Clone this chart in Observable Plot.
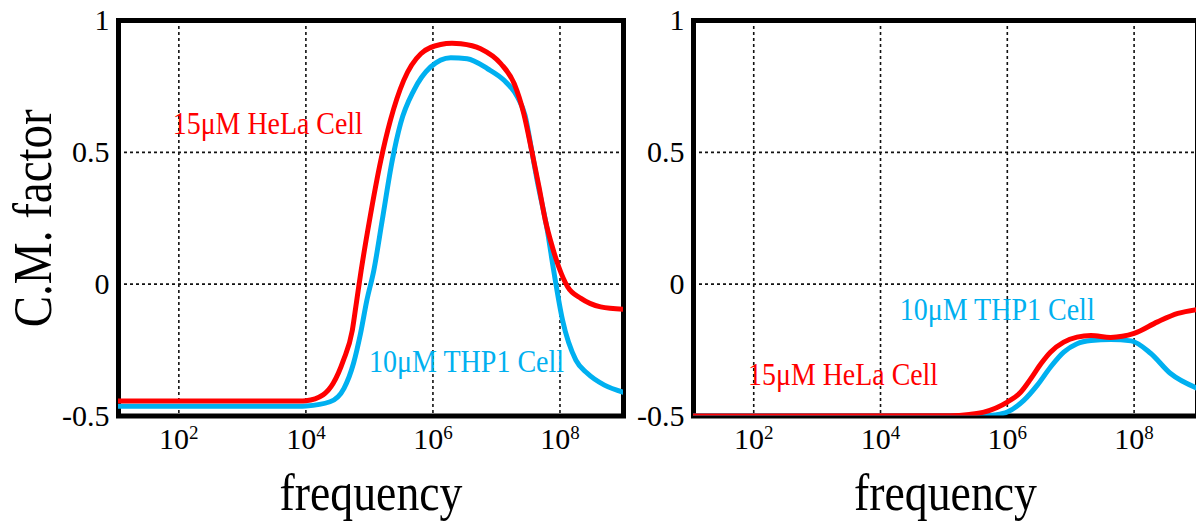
<!DOCTYPE html>
<html>
<head>
<meta charset="utf-8">
<script src="https://cdn.jsdelivr.net/npm/d3@7"></script>
<script src="https://cdn.jsdelivr.net/npm/@observablehq/plot@0.6"></script>
<style>
  html, body { margin: 0; padding: 0; background: #fff; overflow: hidden; }
  #wrap { position: relative; width: 1196px; height: 523px; overflow: hidden; }
  #left { position: absolute; left: 0; top: 0; width: 630px; height: 523px; }
  #right { position: absolute; left: 630px; top: 0; width: 577px; height: 523px; }
</style>
</head>
<body>
<div id="wrap"><div id="left"></div><div id="right"></div></div>
<script>
// ---------- data (frequency as log10 exponent, Clausius–Mossotti factor) ----------
const xTickValues = [1e2, 1e4, 1e6, 1e8];
const yTickValues = [-0.5, 0, 0.5, 1];

// Left panel
const leftHelaExp = [1.05, 3.9, 4.0, 4.27, 4.43, 4.59, 4.73, 4.80, 4.87, 5.0, 5.18, 5.33, 5.54, 5.81, 6.12, 6.30, 6.44, 6.75, 7.07, 7.28, 7.43, 7.56, 7.67, 7.77, 7.88, 7.98, 8.12, 8.33, 8.64, 9.0];
const leftHelaCM  = [-0.443, -0.443, -0.442, -0.42, -0.376, -0.289, -0.176, -0.062, 0.052, 0.24, 0.47, 0.621, 0.773, 0.874, 0.909, 0.914, 0.912, 0.893, 0.836, 0.76, 0.647, 0.5, 0.369, 0.242, 0.141, 0.066, -0.01, -0.054, -0.086, -0.095];
const leftThp1Exp = [1.05, 3.9, 4.0, 4.38, 4.60, 4.75, 4.86, 4.96, 5.07, 5.20, 5.36, 5.49, 5.70, 5.96, 6.28, 6.54, 6.86, 7.12, 7.33, 7.45, 7.56, 7.64, 7.80, 7.90, 8.04, 8.25, 8.43, 8.70, 9.0];
const leftThp1CM  = [-0.463, -0.463, -0.462, -0.446, -0.395, -0.30, -0.187, -0.061, 0.053, 0.24, 0.47, 0.609, 0.735, 0.823, 0.859, 0.855, 0.817, 0.773, 0.71, 0.64, 0.5, 0.394, 0.205, 0.053, -0.136, -0.288, -0.338, -0.383, -0.41];

// Right panel
const rightHelaExp = [1.05, 5.1, 5.4, 5.63, 6.0, 6.21, 6.37, 6.53, 6.68, 6.89, 7.10, 7.32, 7.63, 8.0, 8.37, 8.69, 9.0];
const rightHelaCM  = [-0.5, -0.499, -0.494, -0.485, -0.447, -0.41, -0.359, -0.302, -0.258, -0.22, -0.201, -0.195, -0.202, -0.187, -0.143, -0.111, -0.096];
const rightThp1Exp = [1.05, 5.6, 5.8, 6.0, 6.26, 6.47, 6.68, 6.89, 7.10, 7.32, 7.63, 7.95, 8.26, 8.57, 9.0];
const rightThp1CM  = [-0.5, -0.5, -0.496, -0.485, -0.441, -0.384, -0.315, -0.258, -0.226, -0.214, -0.21, -0.215, -0.262, -0.338, -0.395];

// Annotations
const leftLabelText  = ["15μM HeLa Cell", "10μM THP1 Cell"];
const leftLabelExp   = [3.40, 6.53];
const leftLabelCM    = [0.609, -0.297];
const rightLabelText = ["10μM THP1 Cell", "15μM HeLa Cell"];
const rightLabelExp  = [5.84, 3.41];
const rightLabelCM   = [-0.10, -0.346];
const labelSeries    = { "15μM HeLa Cell": "HeLa", "10μM THP1 Cell": "THP1" };

const xLabel = "frequency";
const yLabel = "C.M. factor";

// ---------- helpers ----------
const colors = { HeLa: "#ff0000", THP1: "#00b0f0" };
const rows = (exps, vals) => exps.map((e, i) => ({ f: Math.pow(10, e), cm: vals[i] }));
const labels = (texts, exps, vals) => texts.map((t, i) => ({ text: t, f: Math.pow(10, exps[i]), cm: vals[i], color: colors[labelSeries[t]] }));
const FONT = "'Liberation Serif', 'DejaVu Serif', serif";
// condensed rendering of the serif text (the original uses a narrow serif face)
const textLengths = { "frequency": 183, "C.M. factor": 218, "15μM HeLa Cell": 190, "10μM THP1 Cell": 195 };

function panel({ width, marginLeft, marginRight, hela, thp1, notes, withYLabel }) {
  const svg = Plot.plot({
    width, height: 523,
    marginTop: 20, marginBottom: 107.5, marginLeft, marginRight,
    style: { fontFamily: FONT, fontSize: "30px", color: "black", background: "transparent", maxWidth: "none", overflow: "visible" },
    x: { type: "log", domain: [Math.pow(10, 1.05), 1e9] },
    y: { domain: [-0.5, 1] },
    marks: [
      Plot.ruleX(xTickValues, { stroke: "#111", strokeWidth: 1.6, strokeDasharray: "3,3" }),
      Plot.ruleY([0, 0.5], { stroke: "#111", strokeWidth: 1.6, strokeDasharray: "3,3" }),
      Plot.frame({ stroke: "black", strokeWidth: 5 }),
      Plot.axisX(xTickValues, { tickSize: 0, tickPadding: 12, label: null, fontSize: 30, tickFormat: d => "10|" + Math.round(Math.log10(d)) }),
      Plot.axisY(yTickValues, { tickSize: 0, tickPadding: 9, label: null, fontSize: 30, tickFormat: d => String(d) }),
      Plot.line(thp1, { x: "f", y: "cm", stroke: colors.THP1, strokeWidth: 5, curve: "monotone-x", clip: true }),
      Plot.line(hela, { x: "f", y: "cm", stroke: colors.HeLa, strokeWidth: 5, curve: "monotone-x", clip: true }),
      Plot.text(notes, { x: "f", y: "cm", text: "text", fill: "color", fontSize: 31 }),
      Plot.text([xLabel], { frameAnchor: "bottom", lineAnchor: "middle", dy: 77, fontSize: 52 }),
      withYLabel ? Plot.text([yLabel], { frameAnchor: "left", textAnchor: "middle", lineAnchor: "middle", dx: -85, rotate: -90, fontSize: 54 }) : null
    ]
  });
  const root = d3.select(svg);
  // render "10|n" as 10 with a superscript exponent
  root.selectAll("g[aria-label='x-axis tick label'] text").each(function () {
    const t = d3.select(this);
    const [base, exp] = t.text().split("|");
    t.text(null);
    t.append("tspan").text(base);
    t.append("tspan").attr("font-size", 19).attr("dy", "-0.55em").text(exp);
  });
  root.selectAll("g[aria-label='text'] text").each(function () {
    const len = textLengths[this.textContent];
    if (len) d3.select(this).attr("textLength", len).attr("lengthAdjust", "spacingAndGlyphs");
  });
  return svg;
}

document.getElementById("left").append(panel({
  width: 630, marginLeft: 118, marginRight: 7,
  hela: rows(leftHelaExp, leftHelaCM), thp1: rows(leftThp1Exp, leftThp1CM),
  notes: labels(leftLabelText, leftLabelExp, leftLabelCM), withYLabel: true
}));
document.getElementById("right").append(panel({
  width: 577, marginLeft: 63, marginRight: 10,
  hela: rows(rightHelaExp, rightHelaCM), thp1: rows(rightThp1Exp, rightThp1CM),
  notes: labels(rightLabelText, rightLabelExp, rightLabelCM), withYLabel: false
}));
</script>
</body>
</html>
